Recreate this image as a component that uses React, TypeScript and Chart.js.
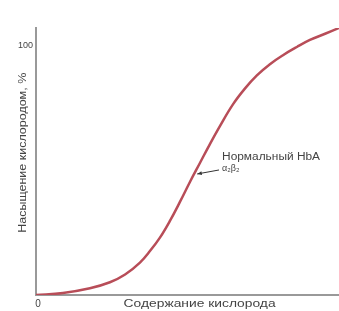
import React, { useEffect, useRef } from "react";
import { Chart, registerables } from "chart.js";

Chart.register(...registerables);

// Oxygen content (relative units, 0..100) and oxygen saturation (%)
const oxygenContent = [0, 8.9, 17.8, 24.4, 29.4, 34.3, 37.6, 40.9, 44.2, 47.5, 50.8, 54.1, 57.4, 60.7, 65.0, 69.0, 72.9, 77.2, 81.5, 86.1, 90.4, 95.4, 100];
const saturation = [0, 0.8, 2.7, 5.1, 8.2, 13.0, 17.6, 23.0, 29.7, 37.3, 45.3, 52.9, 60.5, 67.7, 76.4, 82.8, 88.0, 92.5, 96.1, 99.4, 102.2, 104.7, 107.0];

const xTickLabels = ["0"];
const yTickLabels = ["100"];
const xTitle = "Содержание кислорода";
const yTitle = "Насыщение кислородом, %";
const curveLabel = "Нормальный HbA";
const curveSubLabel = "α₂β₂";

const FONT = '"Liberation Sans", Arial, sans-serif';

function drawFitted(ctx: CanvasRenderingContext2D, text: string, x: number, y: number, width: number, align: "left" | "center") {
  const w = ctx.measureText(text).width;
  const sx = width / w;
  ctx.save();
  ctx.translate(x, y);
  ctx.scale(sx, 1);
  ctx.textAlign = align;
  ctx.fillText(text, 0, 0);
  ctx.restore();
}

const labelsPlugin = {
  id: "labelsPlugin",
  afterDraw(chart: any) {
    const ctx = chart.ctx as CanvasRenderingContext2D;
    const xs = chart.scales.x;
    const ys = chart.scales.y;
    ctx.save();
    ctx.fillStyle = "#444";
    ctx.textBaseline = "middle";
    ctx.font = `10px ${FONT}`;
    // tick labels
    ctx.textAlign = "center";
    ctx.fillText(xTickLabels[0], xs.getPixelForValue(0) + 2, ys.getPixelForValue(0) + 9);
    ctx.textAlign = "right";
    ctx.font = `9px ${FONT}`;
    ctx.fillText(yTickLabels[0], xs.left - 3, ys.getPixelForValue(100));
    // x title
    ctx.font = `10px ${FONT}`;
    drawFitted(ctx, xTitle, xs.getPixelForValue(54), ys.getPixelForValue(0) + 9, 152, "center");
    // y title
    ctx.save();
    ctx.translate(xs.left - 13, ys.getPixelForValue(57));
    ctx.rotate(-Math.PI / 2);
    drawFitted(ctx, yTitle, 0, 0, 160, "center");
    ctx.restore();
    // curve annotation
    const lx = xs.getPixelForValue(61.4);
    const ly = ys.getPixelForValue(55.3);
    drawFitted(ctx, curveLabel, lx, ly, 98, "left");
    ctx.font = `9px ${FONT}`;
    ctx.textAlign = "left";
    ctx.fillText(curveSubLabel, lx, ly + 12);
    // arrow
    const ax0 = xs.getPixelForValue(60.4);
    const ay0 = ys.getPixelForValue(50.1);
    const ax1 = xs.getPixelForValue(53.2);
    const ay1 = ys.getPixelForValue(48.5);
    ctx.strokeStyle = "#333";
    ctx.lineWidth = 1;
    ctx.beginPath();
    ctx.moveTo(ax0, ay0);
    ctx.lineTo(ax1, ay1);
    ctx.stroke();
    const ang = Math.atan2(ay1 - ay0, ax1 - ax0);
    ctx.fillStyle = "#333";
    ctx.beginPath();
    ctx.moveTo(ax1, ay1);
    ctx.lineTo(ax1 - 5 * Math.cos(ang - 0.4), ay1 - 5 * Math.sin(ang - 0.4));
    ctx.lineTo(ax1 - 5 * Math.cos(ang + 0.4), ay1 - 5 * Math.sin(ang + 0.4));
    ctx.closePath();
    ctx.fill();
    ctx.restore();
  },
};

export default function App() {
  const ref = useRef<HTMLCanvasElement | null>(null);
  useEffect(() => {
    document.body.style.margin = "0";
    const canvas = ref.current;
    if (!canvas) return;
    const chart = new Chart(canvas, {
      type: "line",
      data: {
        datasets: [
          {
            data: oxygenContent.map((x, i) => ({ x, y: saturation[i] })),
            borderColor: "#b84d58",
            borderWidth: 2.5,
            pointRadius: 0,
            tension: 0.4,
            fill: false,
          },
        ],
      },
      options: {
        animation: false,
        responsive: false,
        maintainAspectRatio: false,
        layout: { padding: { left: 36, right: 0, top: 28, bottom: 16 } },
        plugins: { legend: { display: false }, tooltip: { enabled: false } },
        scales: {
          x: {
            type: "linear",
            min: 0,
            max: 100,
            grid: { display: false, drawTicks: false },
            ticks: { display: false },
            border: { display: true, color: "#999", width: 2 },
          },
          y: {
            type: "linear",
            min: 0,
            max: 107,
            grid: { display: false, drawTicks: false },
            ticks: { display: false },
            border: { display: true, color: "#999", width: 2 },
          },
        },
      },
      plugins: [labelsPlugin],
    } as any);
    return () => chart.destroy();
  }, []);
  return (
    <div style={{ width: 339, height: 311, background: "#fff" }}>
      <canvas ref={ref} width={339} height={311} style={{ display: "block" }} />
    </div>
  );
}
